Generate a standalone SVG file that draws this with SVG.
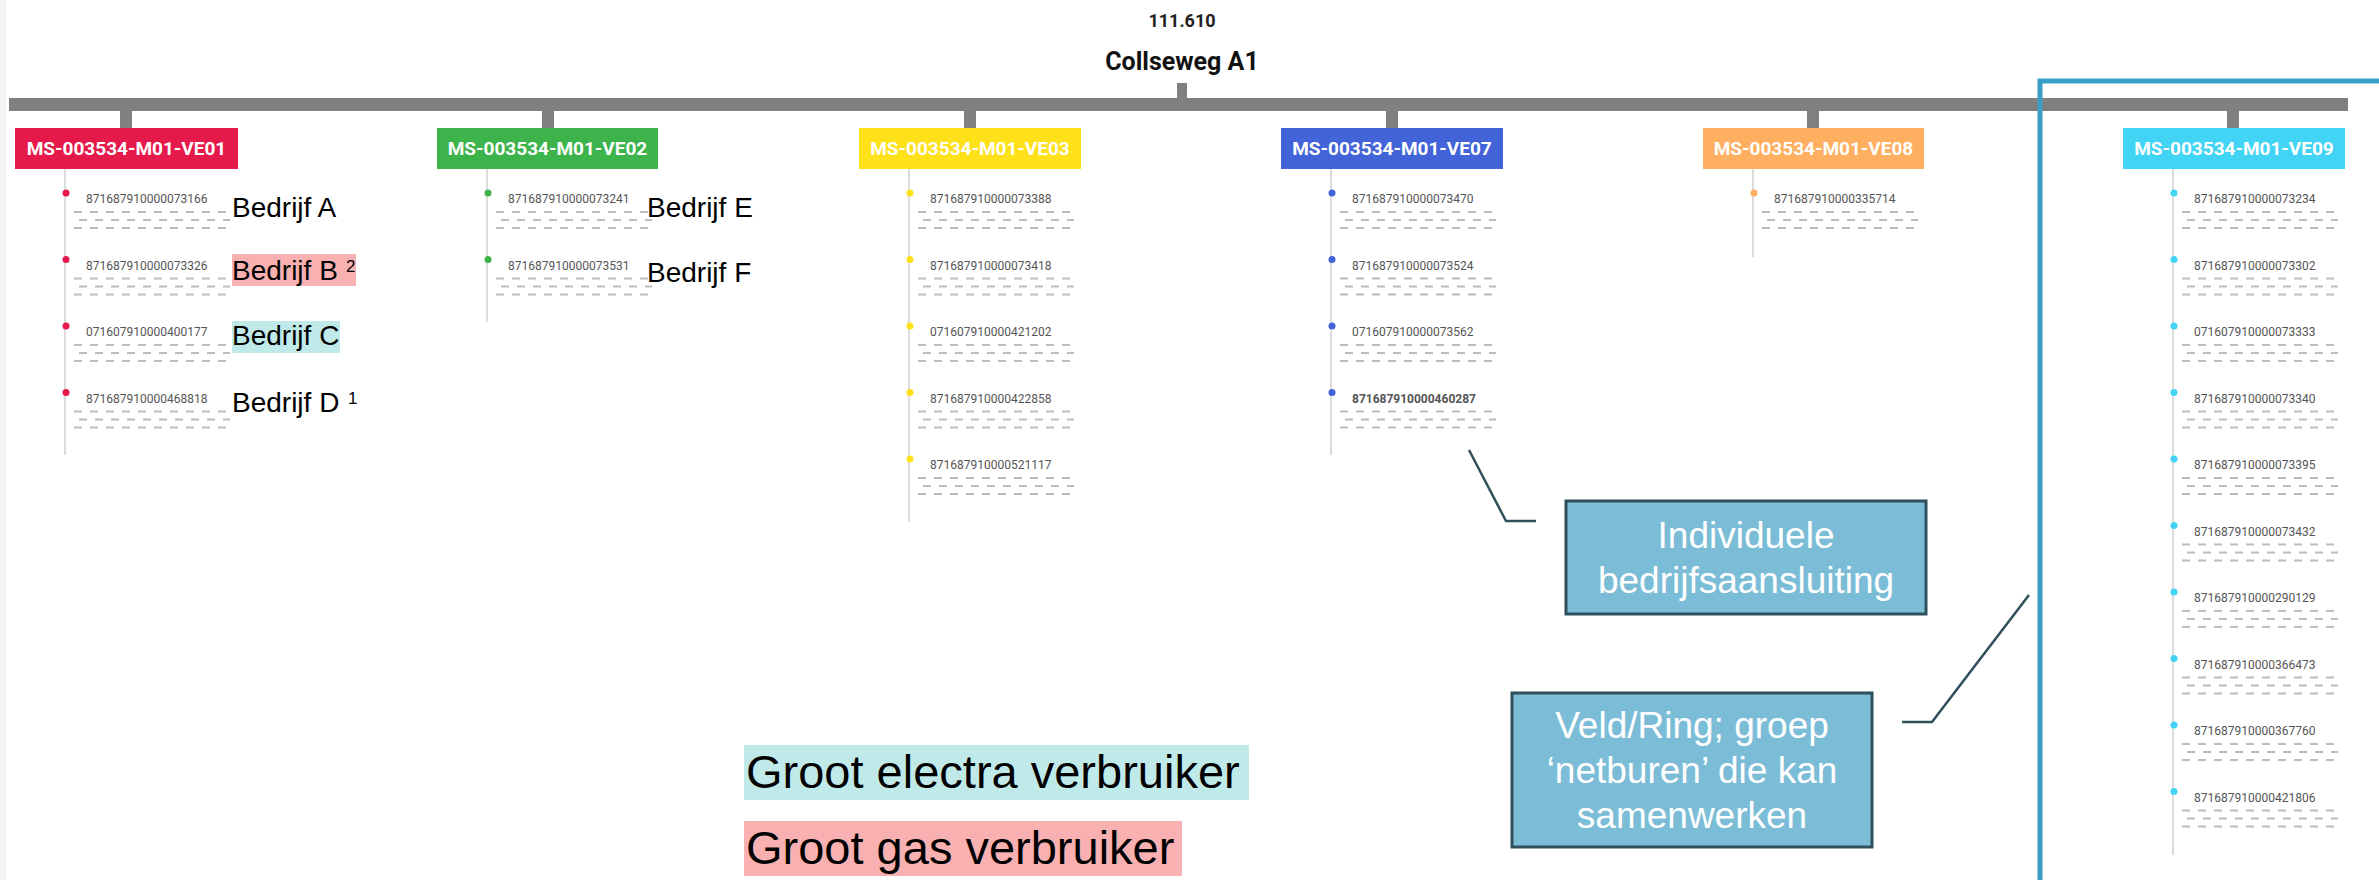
<svg xmlns="http://www.w3.org/2000/svg" xmlns:xlink="http://www.w3.org/1999/xlink" width="2379" height="880" viewBox="0 0 2379 880">
<style>
.bus{fill:#808080}
.vl{stroke:#dcdcdc;stroke-width:2;fill:none}
.dash{stroke:#bdbdbd;stroke-width:1.8;stroke-dasharray:8 8;fill:none}
.num{font-family:Roboto,"Liberation Sans",sans-serif;font-size:12px;fill:#555}
.box{font-family:Roboto,"Liberation Sans",sans-serif;font-size:19px;font-weight:bold;fill:#fff;text-anchor:middle}
.bed{font-family:"Liberation Sans",Arial,sans-serif;font-size:28px;fill:#000}
.sup{font-family:"Liberation Sans",Arial,sans-serif;font-size:17px;fill:#000}
.call{fill:#7bbdd7;stroke:#2f4f5a;stroke-width:3}
.ct{font-family:"Liberation Sans",Arial,sans-serif;font-size:37px;fill:#fff;text-anchor:middle}
.conn{stroke:#2f4f5a;stroke-width:2.5;fill:none}
.leg{font-family:"Liberation Sans",Arial,sans-serif;font-size:47px;fill:#000}
</style>
<defs>
<path id="dl" class="dash" d="M0 19H156M5 27H156M0 35H156"/>
</defs>
<rect x="0" y="0" width="2379" height="880" fill="#fff"/>
<rect x="0" y="0" width="6" height="880" fill="#f3f3f3"/>

<g id="title">
<text x="1182" y="27" text-anchor="middle" font-family="Roboto,'Liberation Sans',sans-serif" font-size="18" font-weight="bold" fill="#222">111.610</text>
<text x="1182" y="70" text-anchor="middle" font-family="Roboto,'Liberation Sans',sans-serif" font-size="25" font-weight="bold" fill="#111">Collseweg A1</text>
</g>

<g id="connectors">
<rect class="bus" x="1177" y="83" width="10" height="16"/>
<rect class="bus" x="9" y="98" width="2339" height="13"/>
<rect class="bus" x="120" y="110" width="12" height="19"/>
<rect class="bus" x="542" y="110" width="12" height="19"/>
<rect class="bus" x="964" y="110" width="12" height="19"/>
<rect class="bus" x="1386" y="110" width="12" height="19"/>
<rect class="bus" x="1807" y="110" width="12" height="19"/>
<rect class="bus" x="2227" y="110" width="12" height="19"/>
<line class="vl" x1="65" y1="169" x2="65" y2="455"/>
<line class="vl" x1="487" y1="169" x2="487" y2="322"/>
<line class="vl" x1="909" y1="169" x2="909" y2="522"/>
<line class="vl" x1="1331" y1="169" x2="1331" y2="455"/>
<line class="vl" x1="1753" y1="169" x2="1753" y2="257"/>
<line class="vl" x1="2173" y1="169" x2="2173" y2="855"/>
<polyline class="conn" points="1469,450 1506,521 1536,521"/>
<polyline class="conn" points="1902,722 1932,722 2029,595"/>
</g>

<g id="ring">
<path d="M2040 880V81H2379" fill="none" stroke="#3a9fc7" stroke-width="5"/>
</g>

<g id="ve01">
<rect x="15" y="128" width="223" height="41" fill="#e6194b"/>
<text class="box" x="126.5" y="155">MS-003534-M01-VE01</text>
<g fill="#e6194b"><circle cx="66" cy="193" r="3.5"/><circle cx="66" cy="259.5" r="3.5"/><circle cx="66" cy="326" r="3.5"/><circle cx="66" cy="392.5" r="3.5"/></g>
<text class="num" x="86" y="203">871687910000073166</text>
<text class="num" x="86" y="269.5">871687910000073326</text>
<text class="num" x="86" y="336">071607910000400177</text>
<text class="num" x="86" y="402.5">871687910000468818</text>
<use href="#dl" x="74" y="193"/><use href="#dl" x="74" y="259.5"/><use href="#dl" x="74" y="326"/><use href="#dl" x="74" y="392.5"/>
<rect x="232" y="254" width="124" height="32" fill="#f9b0b0"/>
<rect x="232" y="321" width="108" height="32" fill="#c0eaea"/>
<text class="bed" x="232" y="217">Bedrijf A</text>
<text class="bed" x="232" y="280">Bedrijf B</text>
<text class="sup" x="346" y="272">2</text>
<text class="bed" x="232" y="345">Bedrijf C</text>
<text class="bed" x="232" y="412">Bedrijf D</text>
<text class="sup" x="348" y="404">1</text>
</g>

<g id="ve02">
<rect x="437" y="128" width="221" height="41" fill="#3cb44b"/>
<text class="box" x="547.5" y="155">MS-003534-M01-VE02</text>
<g fill="#3cb44b"><circle cx="488" cy="193" r="3.5"/><circle cx="488" cy="259.5" r="3.5"/></g>
<text class="num" x="508" y="203">871687910000073241</text>
<text class="num" x="508" y="269.5">871687910000073531</text>
<use href="#dl" x="496" y="193"/><use href="#dl" x="496" y="259.5"/>
<text class="bed" x="647" y="217">Bedrijf E</text>
<text class="bed" x="647" y="282">Bedrijf F</text>
</g>

<g id="ve03">
<rect x="859" y="128" width="222" height="41" fill="#ffe119"/>
<text class="box" x="970" y="155">MS-003534-M01-VE03</text>
<g fill="#ffe119"><circle cx="910" cy="193" r="3.5"/><circle cx="910" cy="259.5" r="3.5"/><circle cx="910" cy="326" r="3.5"/><circle cx="910" cy="392.5" r="3.5"/><circle cx="910" cy="459" r="3.5"/></g>
<text class="num" x="930" y="203">871687910000073388</text>
<text class="num" x="930" y="269.5">871687910000073418</text>
<text class="num" x="930" y="336">071607910000421202</text>
<text class="num" x="930" y="402.5">871687910000422858</text>
<text class="num" x="930" y="469">871687910000521117</text>
<use href="#dl" x="918" y="193"/><use href="#dl" x="918" y="259.5"/><use href="#dl" x="918" y="326"/><use href="#dl" x="918" y="392.5"/><use href="#dl" x="918" y="459"/>
</g>

<g id="ve07">
<rect x="1281" y="128" width="222" height="41" fill="#4363d8"/>
<text class="box" x="1392" y="155">MS-003534-M01-VE07</text>
<g fill="#4363d8"><circle cx="1332" cy="193" r="3.5"/><circle cx="1332" cy="259.5" r="3.5"/><circle cx="1332" cy="326" r="3.5"/><circle cx="1332" cy="392.5" r="3.5"/></g>
<text class="num" x="1352" y="203">871687910000073470</text>
<text class="num" x="1352" y="269.5">871687910000073524</text>
<text class="num" x="1352" y="336">071607910000073562</text>
<text class="num" x="1352" y="402.5" font-weight="bold" fill="#333">871687910000460287</text>
<use href="#dl" x="1340" y="193"/><use href="#dl" x="1340" y="259.5"/><use href="#dl" x="1340" y="326"/><use href="#dl" x="1340" y="392.5"/>
</g>

<g id="ve08">
<rect x="1703" y="128" width="221" height="41" fill="#ffaf60"/>
<text class="box" x="1813.5" y="155">MS-003534-M01-VE08</text>
<circle cx="1754" cy="193" r="3.5" fill="#ffaf60"/>
<text class="num" x="1774" y="203">871687910000335714</text>
<use href="#dl" x="1762" y="193"/>
</g>

<g id="ve09">
<rect x="2123" y="128" width="222" height="41" fill="#42d4f4"/>
<text class="box" x="2234" y="155">MS-003534-M01-VE09</text>
<g fill="#42d4f4"><circle cx="2174" cy="193" r="3.5"/><circle cx="2174" cy="259.5" r="3.5"/><circle cx="2174" cy="326" r="3.5"/><circle cx="2174" cy="392.5" r="3.5"/><circle cx="2174" cy="459" r="3.5"/><circle cx="2174" cy="525.5" r="3.5"/><circle cx="2174" cy="592" r="3.5"/><circle cx="2174" cy="658.5" r="3.5"/><circle cx="2174" cy="725" r="3.5"/><circle cx="2174" cy="791.5" r="3.5"/></g>
<text class="num" x="2194" y="203">871687910000073234</text>
<text class="num" x="2194" y="269.5">871687910000073302</text>
<text class="num" x="2194" y="336">071607910000073333</text>
<text class="num" x="2194" y="402.5">871687910000073340</text>
<text class="num" x="2194" y="469">871687910000073395</text>
<text class="num" x="2194" y="535.5">871687910000073432</text>
<text class="num" x="2194" y="602">871687910000290129</text>
<text class="num" x="2194" y="668.5">871687910000366473</text>
<text class="num" x="2194" y="735">871687910000367760</text>
<text class="num" x="2194" y="801.5">871687910000421806</text>
<use href="#dl" x="2182" y="193"/><use href="#dl" x="2182" y="259.5"/><use href="#dl" x="2182" y="326"/><use href="#dl" x="2182" y="392.5"/><use href="#dl" x="2182" y="459"/><use href="#dl" x="2182" y="525.5"/><use href="#dl" x="2182" y="592"/><use href="#dl" x="2182" y="658.5"/><use href="#dl" x="2182" y="725"/><use href="#dl" x="2182" y="791.5"/>
</g>

<g id="callout-individueel">
<rect class="call" x="1566" y="501" width="360" height="113"/>
<text class="ct" x="1746" y="548">Individuele</text>
<text class="ct" x="1746" y="593">bedrijfsaansluiting</text>
</g>

<g id="callout-veld">
<rect class="call" x="1512" y="693" width="360" height="154"/>
<text class="ct" x="1692" y="738">Veld/Ring; groep</text>
<text class="ct" x="1692" y="783">‘netburen’ die kan</text>
<text class="ct" x="1692" y="828">samenwerken</text>
</g>

<g id="legend">
<rect x="744" y="745" width="505" height="55" fill="#c0eaea"/>
<text class="leg" x="746" y="788">Groot electra verbruiker</text>
<rect x="744" y="821" width="438" height="55" fill="#f9b0b0"/>
<text class="leg" x="746" y="864">Groot gas verbruiker</text>
</g>
</svg>
